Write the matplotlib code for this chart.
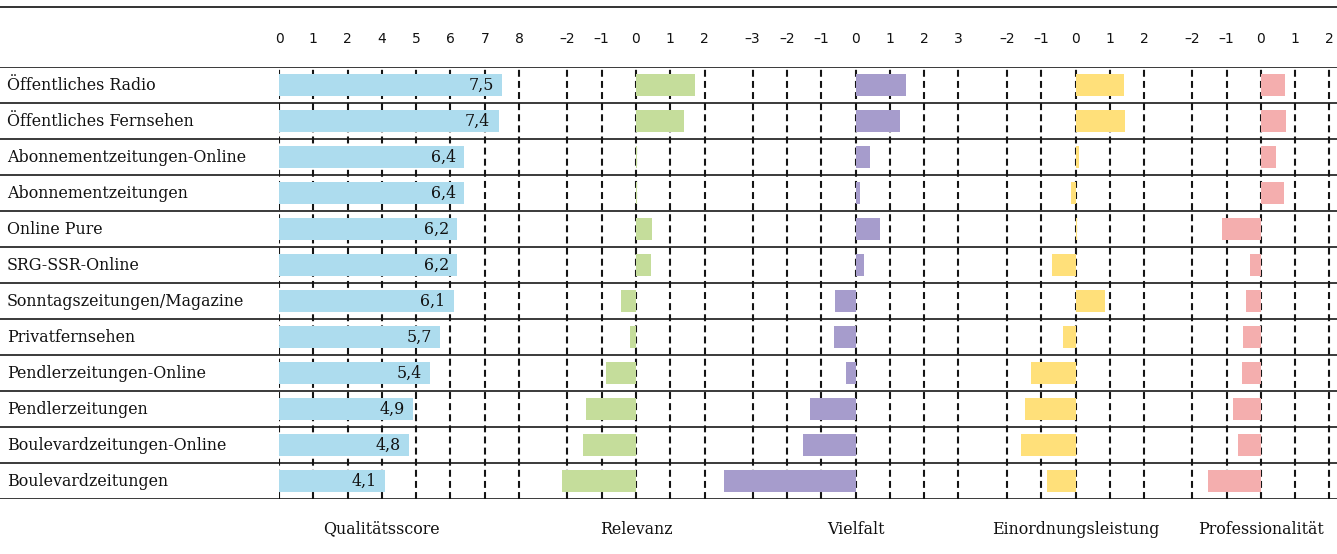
import matplotlib
matplotlib.use("Agg")
import matplotlib.pyplot as plt
from matplotlib.lines import Line2D
import matplotlib.transforms as mtransforms

plt.rcParams['lines.scale_dashes'] = False

categories = ["Öffentliches Radio", "Öffentliches Fernsehen", "Abonnementzeitungen-Online",
              "Abonnementzeitungen", "Online Pure", "SRG-SSR-Online",
              "Sonntagszeitungen/Magazine", "Privatfernsehen", "Pendlerzeitungen-Online",
              "Pendlerzeitungen", "Boulevardzeitungen-Online", "Boulevardzeitungen"]

qualitaetsscore = [7.5, 7.4, 6.4, 6.4, 6.2, 6.2, 6.1, 5.7, 5.4, 4.9, 4.8, 4.1]
relevanz = [1.72, 1.40, 0.03, 0.02, 0.46, 0.43, -0.44, -0.18, -0.88, -1.45, -1.55, -2.17]
vielfalt = [1.47, 1.30, 0.42, 0.13, 0.72, 0.26, -0.61, -0.63, -0.29, -1.32, -1.52, -3.82]
einordnung = [1.41, 1.43, 0.10, -0.12, 0.03, -0.69, 0.85, -0.35, -1.31, -1.48, -1.60, -0.84]
professionalitaet = [0.72, 0.74, 0.45, 0.68, -1.13, -0.31, -0.43, -0.51, -0.56, -0.82, -0.66, -1.53]

titles = ["Qualitätsscore", "Relevanz", "Vielfalt", "Einordnungsleistung", "Professionalität"]

quality_ticks = [1, 2, 3, 4, 5, 6, 7, 8]
quality_ticklabels = ["0", "1", "2", "4", "5", "6", "7", "8"]
rel_ticks = [-2, -1, 0, 1, 2]
viel_ticks = [-3, -2, -1, 0, 1, 2, 3]
ein_ticks = [-2, -1, 0, 1, 2]
prof_ticks = [-2, -1, 0, 1, 2]

colors = ["#ADDCEE", "#C5DD9B", "#A69CCC", "#FFE07A", "#F4AEAE"]

W, H = 1337, 554
fig = plt.figure(figsize=(W / 100, H / 100), dpi=100)

SERIF = ["DejaVu Serif"]
SANS = ["DejaVu Sans"]

TOP_PX, BOT_PX = 67, 499
PX_PER_UNIT = 34.3
n = len(categories)

def fy(py):
    return 1 - py / H

# background axes: row lines and labels
bg = fig.add_axes([0, fy(BOT_PX), 1, (BOT_PX - TOP_PX) / H])
bg.set_xlim(0, W)
bg.set_ylim(n, 0)
bg.axis("off")
for i in range(n + 1):
    bg.axhline(i, color="#3a3a3a", lw=1.4, zorder=5)
for i, c in enumerate(categories):
    bg.text(7, i + 0.5, c, ha="left", va="center", fontsize=11.4, family=SERIF, color="#111")

# top rule
fig.add_artist(Line2D([0, 1], [fy(7), fy(7)], color="#333", lw=1.4, transform=fig.transFigure))

def fmt(t):
    return f"{t}".replace("-", "\u2013")

panels = [
    (qualitaetsscore, 279 - PX_PER_UNIT, (1, 8.4), quality_ticks, quality_ticklabels, 4),
    (relevanz, 636, (-2.4, 2.4), rel_ticks, [fmt(t) for t in rel_ticks], 0),
    (vielfalt, 855.5, (-3.95, 3.3), viel_ticks, [fmt(t) for t in viel_ticks], 0),
    (einordnung, 1075.5, (-2.2, 2.2), ein_ticks, [fmt(t) for t in ein_ticks], 0),
    (professionalitaet, 1260.8, (-2.1, 2.1), prof_ticks, [fmt(t) for t in prof_ticks], 0),
]

for k, (vals, origin_px, xlim, ticks, ticklabels, title_x) in enumerate(panels):
    left_px = origin_px + xlim[0] * PX_PER_UNIT
    width_px = (xlim[1] - xlim[0]) * PX_PER_UNIT
    ax = fig.add_axes([left_px / W, fy(BOT_PX), width_px / W, (BOT_PX - TOP_PX) / H])
    ax.patch.set_alpha(0)
    ax.set_xlim(*xlim)
    ax.set_ylim(n, 0)
    for s in ax.spines.values():
        s.set_visible(False)
    ax.set_yticks([])
    ax.xaxis.tick_top()
    ax.set_xticks(ticks)
    ax.set_xticklabels(ticklabels, fontsize=10, family=SANS, color="#111")
    ax.tick_params(axis="x", length=0, pad=15)
    for t in ticks:
        ax.axvline(t, color="#151515", lw=1.5, linestyle=(0, (5, 3)), zorder=1)
    ys = [i + 0.5 for i in range(n)]
    ax.barh(ys, vals, height=0.61, color=colors[k], linewidth=0, zorder=3)
    if k == 0:
        for y, v in zip(ys, vals):
            ax.annotate(f"{v:.1f}".replace(".", ","), xy=(v, y), xytext=(-6, 0),
                        textcoords="offset points", ha="right", va="center",
                        fontsize=11.4, family=SERIF, color="#111", zorder=4)
    trans = mtransforms.blended_transform_factory(ax.transData, fig.transFigure)
    ax.text(title_x, fy(529), titles[k], transform=trans, ha="center", va="center",
            fontsize=11.4, family=SERIF, color="#111")

fig.savefig("out.png", dpi=100)
